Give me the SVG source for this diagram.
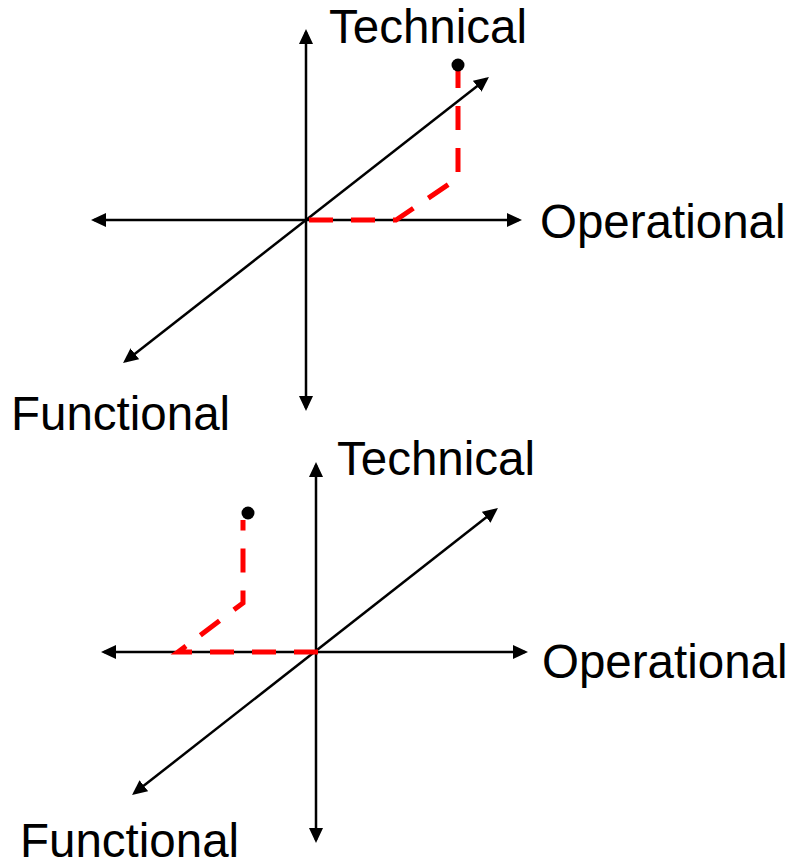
<svg xmlns="http://www.w3.org/2000/svg" width="792" height="867" viewBox="0 0 792 867">
  <style>
    .axis { stroke: #000; stroke-width: 2.5; fill: none; marker-start: url(#ah); marker-end: url(#ah); }
    .path { stroke: #FF0000; stroke-width: 5; fill: none; stroke-dasharray: 24 18; stroke-linejoin: miter; }
    .lbl { font-family: "Liberation Sans", Arial, sans-serif; font-size: 47.5px; fill: #000; }
  </style>
  <defs>
    <marker id="ah" viewBox="0 0 15 14" refX="12" refY="7" markerWidth="15" markerHeight="14" markerUnits="userSpaceOnUse" orient="auto-start-reverse">
      <path d="M0,0 L15,7 L0,14 z" fill="#000"/>
    </marker>
  </defs>

  <g id="top-diagram">
    <g id="top-axes">
      <line class="axis" x1="306" y1="32" x2="306" y2="408"/>
      <line class="axis" x1="94" y1="220" x2="519" y2="220"/>
      <line class="axis" x1="125.4" y1="361.2" x2="486.6" y2="78.8"/>
    </g>
    <g id="top-path">
      <path class="path" d="M309,220 L396,220 L458,178 L458,70"/>
      <circle cx="458" cy="65" r="6.5" fill="#000"/>
    </g>
    <g id="top-labels">
      <text class="lbl" x="329" y="43">Technical</text>
      <text class="lbl" x="540" y="238">Operational</text>
      <text class="lbl" x="11" y="430">Functional</text>
    </g>
  </g>

  <g id="bottom-diagram">
    <g id="bottom-axes">
      <line class="axis" x1="316" y1="465" x2="316" y2="840"/>
      <line class="axis" x1="104" y1="652" x2="525" y2="652"/>
      <line class="axis" x1="134.4" y1="793.1" x2="495.6" y2="509.9"/>
    </g>
    <g id="bottom-path">
      <path class="path" d="M318,652 L178,652 L243,603 L243,520"/>
      <circle cx="248" cy="513" r="6.5" fill="#000"/>
    </g>
    <g id="bottom-labels">
      <text class="lbl" x="337" y="475">Technical</text>
      <text class="lbl" x="542" y="678">Operational</text>
      <text class="lbl" x="20" y="857">Functional</text>
    </g>
  </g>
</svg>
